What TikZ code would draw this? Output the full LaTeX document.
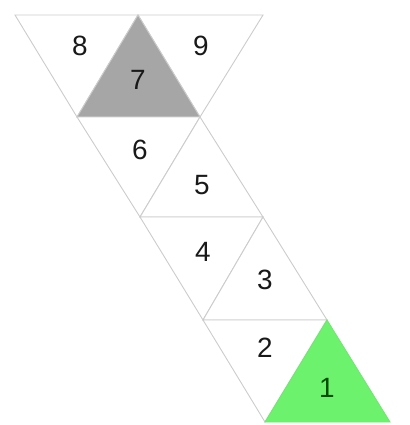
\documentclass[tikz,border=0pt]{standalone}
\usepackage{fontspec}
\setmainfont{Liberation Sans}
\begin{document}
\begin{tikzpicture}[x=1bp,y=-1bp,
  tri/.style={draw=black!20,line width=0.9bp,line join=miter},
  lbl/.style={font=\fontsize{28}{30}\selectfont,text=black!90,inner sep=0pt},
  grayfill/.style={fill=black!35},
  greenfill/.style={fill=green!55!white!95!black}]
\useasboundingbox (0,0) rectangle (410,425);
% row 1
\filldraw[tri,fill=white] (15,15) -- (138,15) -- (77,117) -- cycle;
\filldraw[tri,fill=white] (138,15) -- (263,15) -- (200,117) -- cycle;
\filldraw[tri,grayfill] (138,15) -- (200,117) -- (77,117) -- cycle;
% row 2
\filldraw[tri,fill=white] (77,117) -- (200,117) -- (140,217) -- cycle;
\filldraw[tri,fill=white] (200,117) -- (263,217) -- (140,217) -- cycle;
% row 3
\filldraw[tri,fill=white] (140,217) -- (263,217) -- (203,320) -- cycle;
\filldraw[tri,fill=white] (263,217) -- (327,320) -- (203,320) -- cycle;
% row 4
\filldraw[tri,fill=white] (203,320) -- (327,320) -- (265,422) -- cycle;
\filldraw[tri,greenfill,draw=green!50!white!90!black] (327,320) -- (390,422) -- (265,422) -- cycle;
% labels
\node[lbl] (n8) at (80,46) {8};
\node[lbl] (n9) at (201,46) {9};
\node[lbl] (n7) at (138,80) {7};
\node[lbl] (n6) at (140,150) {6};
\node[lbl] (n5) at (202,185) {5};
\node[lbl] (n4) at (203,252) {4};
\node[lbl] (n3) at (265,280) {3};
\node[lbl] (n2) at (265,348) {2};
\node[lbl,text=green!30!black] (n1) at (327,388) {1};
\end{tikzpicture}
\end{document}
